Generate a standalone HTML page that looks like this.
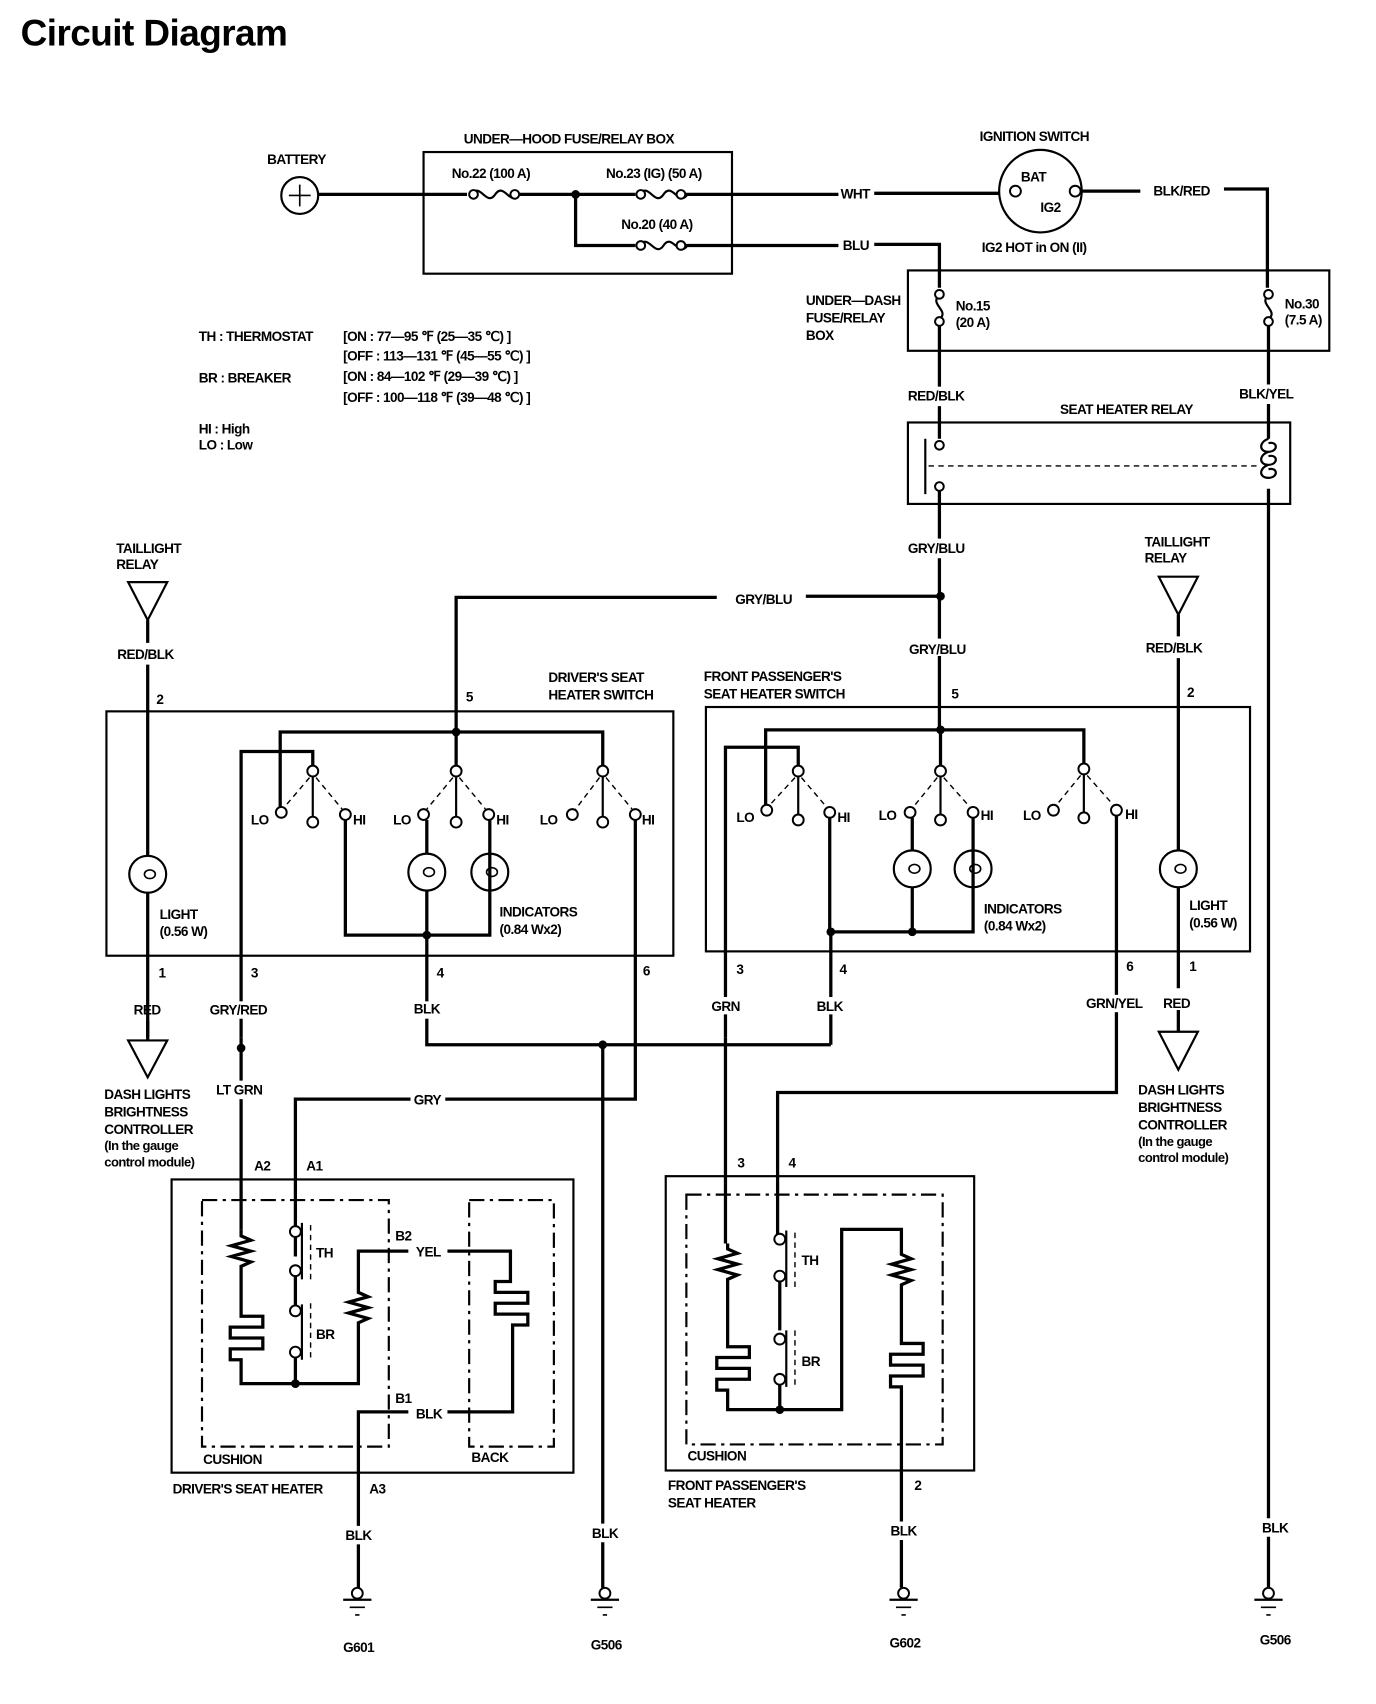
<!DOCTYPE html>
<html><head><meta charset="utf-8"><style>
html,body{margin:0;padding:0;background:#fff}
svg{display:block}
text{font-family:"Liberation Sans Narrow","Liberation Sans",sans-serif;font-weight:bold;font-size:12.5px;letter-spacing:-0.5px;fill:#000}
.w{stroke:#000;stroke-width:3;fill:none}
.t{stroke:#000;stroke-width:2;fill:none}
.th{stroke:#000;stroke-width:1.5;fill:none}
.c{stroke:#000;stroke-width:1.8;fill:#fff}
.dd{stroke:#000;stroke-width:2;fill:none;stroke-dasharray:14 5 3 5}
.ds{stroke:#000;stroke-width:1.3;fill:none;stroke-dasharray:5 4}
</style></head><body>
<svg width="1376" height="1704" viewBox="0 0 1267 1569" preserveAspectRatio="none" xmlns="http://www.w3.org/2000/svg">
<text x="19" y="42" style="font-family:'Liberation Sans',sans-serif;font-size:34px;font-weight:bold;letter-spacing:-0.5px">Circuit Diagram</text>

<!-- battery -->
<text x="246" y="151">BATTERY</text>
<circle cx="276" cy="180" r="17" class="t"/>
<path d="M266 180h20M276 170v20" class="th"/>
<!-- under hood box -->
<text x="427" y="132">UNDER—HOOD FUSE/RELAY BOX</text>
<rect x="390" y="140" width="284" height="112" class="t"/>
<text x="416" y="164">No.22 (100 A)</text>
<text x="558" y="164">No.23 (IG) (50 A)</text>
<text x="572" y="211">No.20 (40 A)</text>
<path d="M293 179H430M478 179H585M630 179H772" class="w"/>
<path d="M434 179c8-12 14 12 22 0s14 12 22 0" class="t"/>
<circle cx="436" cy="179" r="4" class="c"/><circle cx="474" cy="179" r="4" class="c"/>
<path d="M589 179c8-12 14 12 22 0s14 12 22 0" class="t"/>
<circle cx="590" cy="179" r="4" class="c"/><circle cx="627" cy="179" r="4" class="c"/>
<circle cx="530" cy="179" r="4"/>
<path d="M530 179V226H585M630 226H772" class="w"/>
<path d="M589 226c8-12 14 12 22 0s14 12 22 0" class="t"/>
<circle cx="590" cy="226" r="4" class="c"/><circle cx="627" cy="226" r="4" class="c"/>
<text x="774" y="183">WHT</text>
<path d="M805 178H920" class="w"/>
<text x="776" y="230">BLU</text>
<path d="M805 225H865V265" class="w"/>

<!-- ignition -->
<text x="902" y="130">IGNITION SWITCH</text>
<circle cx="958" cy="176" r="38" class="t"/>
<circle cx="935" cy="176" r="5" class="c"/><circle cx="990" cy="176" r="5" class="c"/>
<text x="940" y="167">BAT</text><text x="958" y="195">IG2</text>
<text x="904" y="232">IG2 HOT in ON (II)</text>
<path d="M995 176H1050" class="w"/>
<text x="1062" y="180">BLK/RED</text>
<path d="M1127 174H1167V265" class="w"/>

<!-- under dash -->
<text x="742" y="281">UNDER—DASH</text>
<text x="742" y="297">FUSE/RELAY</text>
<text x="742" y="313">BOX</text>
<rect x="836" y="249" width="388" height="74" class="t"/>
<path d="M865 272c-10 8 10 14 0 22" class="t"/>
<circle cx="865" cy="271" r="4" class="c"/><circle cx="865" cy="296" r="4" class="c"/>
<text x="880" y="286">No.15</text><text x="880" y="301">(20 A)</text>
<path d="M1168 272c-10 8 10 14 0 22" class="t"/>
<circle cx="1168" cy="271" r="4" class="c"/><circle cx="1168" cy="296" r="4" class="c"/>
<text x="1183" y="284">No.30</text><text x="1183" y="299">(7.5 A)</text>
<path d="M865 300V356M865 374V404M1168 300V354M1168 372V404" class="w"/>
<text x="836" y="369">RED/BLK</text>
<text x="1141" y="367">BLK/YEL</text>

<!-- relay -->
<text x="976" y="381">SEAT HEATER RELAY</text>
<rect x="836" y="389" width="352" height="75" class="t"/>
<circle cx="865" cy="410" r="4" class="c"/><circle cx="865" cy="448" r="4" class="c"/>
<path d="M852 404V455" class="t"/>
<path d="M855 429H1160" class="ds"/>
<path d="M1168 404c-9 3-9 12 0 12c9 0 9 -10 0 -8M1168 416c-9 3-9 12 0 12c9 0 9 -10 0 -8M1168 428c-9 3-9 12 0 12c9 0 9 -10 0 -8" class="t"/>
<path d="M865 452V496M865 514V672M1168 450V1462" class="w"/>
<text x="836" y="509">GRY/BLU</text>
<circle cx="866" cy="549" r="4"/>
<path d="M866 549H742M660 550H420V672" class="w"/>
<text x="677" y="556">GRY/BLU</text>
<rect x="840" y="588" width="52" height="16" fill="#fff"/>
<text x="837" y="602">GRY/BLU</text>

<!-- legend -->
<text x="183" y="314">TH : THERMOSTAT</text>
<text x="316" y="314">[ON : 77—95 ℉ (25—35 ℃) ]</text>
<text x="316" y="332">[OFF : 113—131 ℉ (45—55 ℃) ]</text>
<text x="183" y="352">BR : BREAKER</text>
<text x="316" y="351">[ON : 84—102 ℉ (29—39 ℃) ]</text>
<text x="316" y="370">[OFF : 100—118 ℉ (39—48 ℃) ]</text>
<text x="183" y="399">HI : High</text>
<text x="183" y="414">LO : Low</text>

<!-- left taillight -->
<text x="107" y="509">TAILLIGHT</text><text x="107" y="524">RELAY</text>
<path d="M118 536H154L136 571Z" class="t"/>
<path d="M136 571V592M136 612V788M136 822V955" class="w"/>
<text x="108" y="607">RED/BLK</text>
<text x="144" y="648">2</text>
<circle cx="136" cy="805" r="17" class="t"/><ellipse cx="138" cy="805" rx="5" ry="4" class="th"/>
<text x="147" y="846">LIGHT</text><text x="147" y="862">(0.56 W)</text>
<text x="146" y="900">1</text>
<text x="123" y="934">RED</text>
<path d="M136 940V958" class="w"/>
<path d="M118 958H154L136 992Z" class="t"/>
<text x="96" y="1012">DASH LIGHTS</text><text x="96" y="1028">BRIGHTNESS</text><text x="96" y="1044">CONTROLLER</text>
<text x="96" y="1059" style="font-size:12px">(In the gauge</text><text x="96" y="1074" style="font-size:12px">control module)</text>

<!-- driver switch -->
<text x="505" y="628">DRIVER'S SEAT</text><text x="505" y="644">HEATER SWITCH</text>
<text x="429" y="646">5</text>
<rect x="98" y="655" width="522" height="225" class="t"/>
<path d="M258 745V674H555V706M420 672V706M222 955V692H288V706" class="w"/>
<circle cx="420" cy="674" r="4"/>
<g>
<circle cx="288" cy="710" r="5" class="c"/><circle cx="259" cy="748" r="5" class="c"/><circle cx="288" cy="757" r="5" class="c"/><circle cx="318" cy="750" r="5" class="c"/>
<path d="M288 715V752" class="t"/><path d="M285 716L262 743M291 716L315 745" class="ds"/>
<circle cx="420" cy="710" r="5" class="c"/><circle cx="390" cy="750" r="5" class="c"/><circle cx="420" cy="757" r="5" class="c"/><circle cx="450" cy="750" r="5" class="c"/>
<path d="M420 715V752" class="t"/><path d="M417 716L393 745M423 716L447 745" class="ds"/>
<circle cx="555" cy="710" r="5" class="c"/><circle cx="527" cy="750" r="5" class="c"/><circle cx="555" cy="757" r="5" class="c"/><circle cx="585" cy="750" r="5" class="c"/>
<path d="M555 715V752" class="t"/><path d="M552 716L530 745M558 716L582 745" class="ds"/>
</g>
<text x="231" y="759">LO</text><text x="325" y="759">HI</text>
<text x="362" y="759">LO</text><text x="457" y="759">HI</text>
<text x="497" y="759">LO</text><text x="591" y="759">HI</text>
<path d="M318 755V861H451V755M393 755V786M393 820V962H555M585 755V1012H410" class="w"/>
<circle cx="393" cy="803" r="17" class="t"/><ellipse cx="395" cy="803" rx="5" ry="4" class="th"/>
<circle cx="451" cy="803" r="17" class="t"/><ellipse cx="453" cy="803" rx="5" ry="4" class="th"/>
<circle cx="393" cy="861" r="4"/>
<text x="460" y="844">INDICATORS</text><text x="460" y="860">(0.84 Wx2)</text>
<text x="231" y="900">3</text><text x="402" y="900">4</text><text x="592" y="898">6</text>
<rect x="195" y="922" width="52" height="16" fill="#fff"/>
<text x="193" y="934">GRY/RED</text>
<rect x="383" y="922" width="24" height="16" fill="#fff"/>
<text x="381" y="933">BLK</text>
<circle cx="222" cy="965" r="4"/>
<path d="M222 955V995M222 1012V1132" class="w"/>
<text x="199" y="1008">LT GRN</text>
<path d="M378 1012H272V1132" class="w"/>
<text x="381" y="1017">GRY</text>
<circle cx="555" cy="962" r="4"/>
<path d="M555 962V1403M555 1420V1462M555 962H765" class="w"/>

<!-- passenger switch -->
<text x="648" y="627">FRONT PASSENGER'S</text><text x="648" y="643">SEAT HEATER SWITCH</text>
<text x="876" y="643">5</text>
<rect x="650" y="651" width="501" height="225" class="t"/>
<path d="M705 745V672H998V704M866 672V706M668 955V688H735V706" class="w"/>
<circle cx="866" cy="672" r="4"/>
<circle cx="735" cy="710" r="5" class="c"/><circle cx="706" cy="746" r="5" class="c"/><circle cx="735" cy="755" r="5" class="c"/><circle cx="764" cy="748" r="5" class="c"/>
<path d="M735 715V750" class="t"/><path d="M732 716L709 741M738 716L761 743" class="ds"/>
<circle cx="866" cy="710" r="5" class="c"/><circle cx="838" cy="748" r="5" class="c"/><circle cx="866" cy="755" r="5" class="c"/><circle cx="896" cy="748" r="5" class="c"/>
<path d="M866 715V750" class="t"/><path d="M863 716L841 743M869 716L893 743" class="ds"/>
<circle cx="998" cy="708" r="5" class="c"/><circle cx="970" cy="746" r="5" class="c"/><circle cx="998" cy="753" r="5" class="c"/><circle cx="1028" cy="746" r="5" class="c"/>
<path d="M998 713V748" class="t"/><path d="M995 714L973 741M1001 714L1025 741" class="ds"/>
<text x="678" y="757">LO</text><text x="771" y="757">HI</text>
<text x="809" y="755">LO</text><text x="903" y="755">HI</text>
<text x="942" y="755">LO</text><text x="1036" y="754">HI</text>
<path d="M764 753V858H896V753M840 753V783M840 817V858M765 858V962M1028 751V1006H716V1137" class="w"/>
<circle cx="840" cy="800" r="17" class="t"/><ellipse cx="842" cy="800" rx="5" ry="4" class="th"/>
<circle cx="896" cy="800" r="17" class="t"/><ellipse cx="898" cy="800" rx="5" ry="4" class="th"/>
<circle cx="765" cy="858" r="4"/><circle cx="840" cy="858" r="4"/>
<text x="906" y="841">INDICATORS</text><text x="906" y="857">(0.84 Wx2)</text>
<text x="678" y="897">3</text><text x="773" y="897">4</text><text x="1037" y="894">6</text>
<rect x="655" y="918" width="28" height="16" fill="#fff"/><text x="655" y="931">GRN</text>
<rect x="752" y="918" width="26" height="16" fill="#fff"/><text x="752" y="931">BLK</text>
<rect x="1000" y="916" width="56" height="16" fill="#fff"/><text x="1000" y="928">GRN/YEL</text>
<path d="M668 955V1145" class="w"/>

<!-- right taillight -->
<text x="1054" y="503">TAILLIGHT</text><text x="1054" y="518">RELAY</text>
<path d="M1067 531H1103L1085 566Z" class="t"/>
<path d="M1085 566V586M1085 606V783M1085 817V910M1085 930V950" class="w"/>
<text x="1055" y="601">RED/BLK</text>
<text x="1093" y="642">2</text>
<circle cx="1085" cy="800" r="17" class="t"/><ellipse cx="1087" cy="800" rx="5" ry="4" class="th"/>
<text x="1095" y="838">LIGHT</text><text x="1095" y="854">(0.56 W)</text>
<text x="1095" y="894">1</text>
<text x="1071" y="928">RED</text>
<path d="M1067 950H1103L1085 985Z" class="t"/>
<text x="1048" y="1008">DASH LIGHTS</text><text x="1048" y="1024">BRIGHTNESS</text><text x="1048" y="1040">CONTROLLER</text>
<text x="1048" y="1055" style="font-size:12px">(In the gauge</text><text x="1048" y="1070" style="font-size:12px">control module)</text>

<!-- driver heater -->
<text x="234" y="1078">A2</text><text x="282" y="1078">A1</text>
<rect x="158" y="1086" width="370" height="270" class="t"/>
<rect x="186" y="1105" width="172" height="227" class="dd"/>
<rect x="432" y="1105" width="78" height="227" class="dd"/>
<path d="M222 1132L222 1138l9 4-18 5 18 5-18 5 18 5-9 4V1212h20v10h-30v10h30v10h-30v10h10V1274H330V1218l9-4-18-5 18-5-18-5 18-5-9-4V1152H376M412 1152H470V1180h-14v10h30v10h-30v10h30v10h-14V1300H412M376 1300H330V1462" class="w"/>
<path d="M272 1132V1157M272 1172V1202M272 1248V1274" class="w"/>
<circle cx="272" cy="1134" r="5" class="c"/><circle cx="272" cy="1170" r="5" class="c"/>
<circle cx="272" cy="1207" r="5" class="c"/><circle cx="272" cy="1245" r="5" class="c"/>
<path d="M278 1126V1178M278 1201V1252" class="t"/>
<path d="M286 1128V1178M286 1200V1252" class="ds"/>
<circle cx="272" cy="1274" r="4"/>
<text x="291" y="1158">TH</text><text x="291" y="1233">BR</text>
<text x="364" y="1142">B2</text><text x="383" y="1157">YEL</text>
<text x="364" y="1292">B1</text><text x="383" y="1306">BLK</text>
<text x="187" y="1348">CUSHION</text><text x="434" y="1346">BACK</text>
<text x="159" y="1375">DRIVER'S SEAT HEATER</text>
<text x="340" y="1375">A3</text>
<rect x="316" y="1405" width="28" height="17" fill="#fff"/><text x="318" y="1418">BLK</text>
<rect x="544" y="1403" width="28" height="17" fill="#fff"/><text x="545" y="1416">BLK</text>

<!-- passenger heater -->
<text x="679" y="1075">3</text><text x="726" y="1075">4</text>
<rect x="613" y="1083" width="284" height="271" class="t"/>
<rect x="632" y="1100" width="236" height="230" class="dd"/>
<path d="M670 1145V1150l9 4-18 5 18 5-18 5 18 5-9 4V1240h20v10h-30v10h30v10h-30v10h10V1298H775V1132H830V1155l9 4-18 5 18 5-18 5 18 5-9 4V1237h20v10h-30v10h30v10h-30v10h10V1462" class="w"/>
<path d="M718 1137V1140M718 1176V1225M718 1272V1298" class="w"/>
<circle cx="718" cy="1141" r="5" class="c"/><circle cx="718" cy="1175" r="5" class="c"/>
<circle cx="718" cy="1233" r="5" class="c"/><circle cx="718" cy="1270" r="5" class="c"/>
<path d="M724 1133V1185M724 1225V1277" class="t"/>
<path d="M732 1135V1185M732 1225V1277" class="ds"/>
<circle cx="718" cy="1298" r="4"/>
<text x="738" y="1165">TH</text><text x="738" y="1258">BR</text>
<text x="633" y="1345">CUSHION</text>
<text x="615" y="1372">FRONT PASSENGER'S</text><text x="615" y="1388">SEAT HEATER</text>
<text x="842" y="1372">2</text>
<rect x="819" y="1401" width="28" height="17" fill="#fff"/><text x="820" y="1414">BLK</text>
<rect x="1160" y="1398" width="28" height="17" fill="#fff"/><text x="1162" y="1411">BLK</text>

<!-- grounds -->
<g><circle cx="329" cy="1467" r="5" class="c"/><path d="M316 1473H342" class="t"/><path d="M322 1480H336M327 1487H331" class="th"/></g>
<g><circle cx="557" cy="1467" r="5" class="c"/><path d="M544 1473H570" class="t"/><path d="M550 1480H564M555 1487H559" class="th"/></g>
<g><circle cx="832" cy="1467" r="5" class="c"/><path d="M819 1473H845" class="t"/><path d="M825 1480H839M830 1487H834" class="th"/></g>
<g><circle cx="1168" cy="1467" r="5" class="c"/><path d="M1155 1473H1181" class="t"/><path d="M1161 1480H1175M1166 1487H1170" class="th"/></g>
<text x="316" y="1521">G601</text><text x="544" y="1519">G506</text>
<text x="819" y="1517">G602</text><text x="1160" y="1514">G506</text>
</svg>
</body></html>
